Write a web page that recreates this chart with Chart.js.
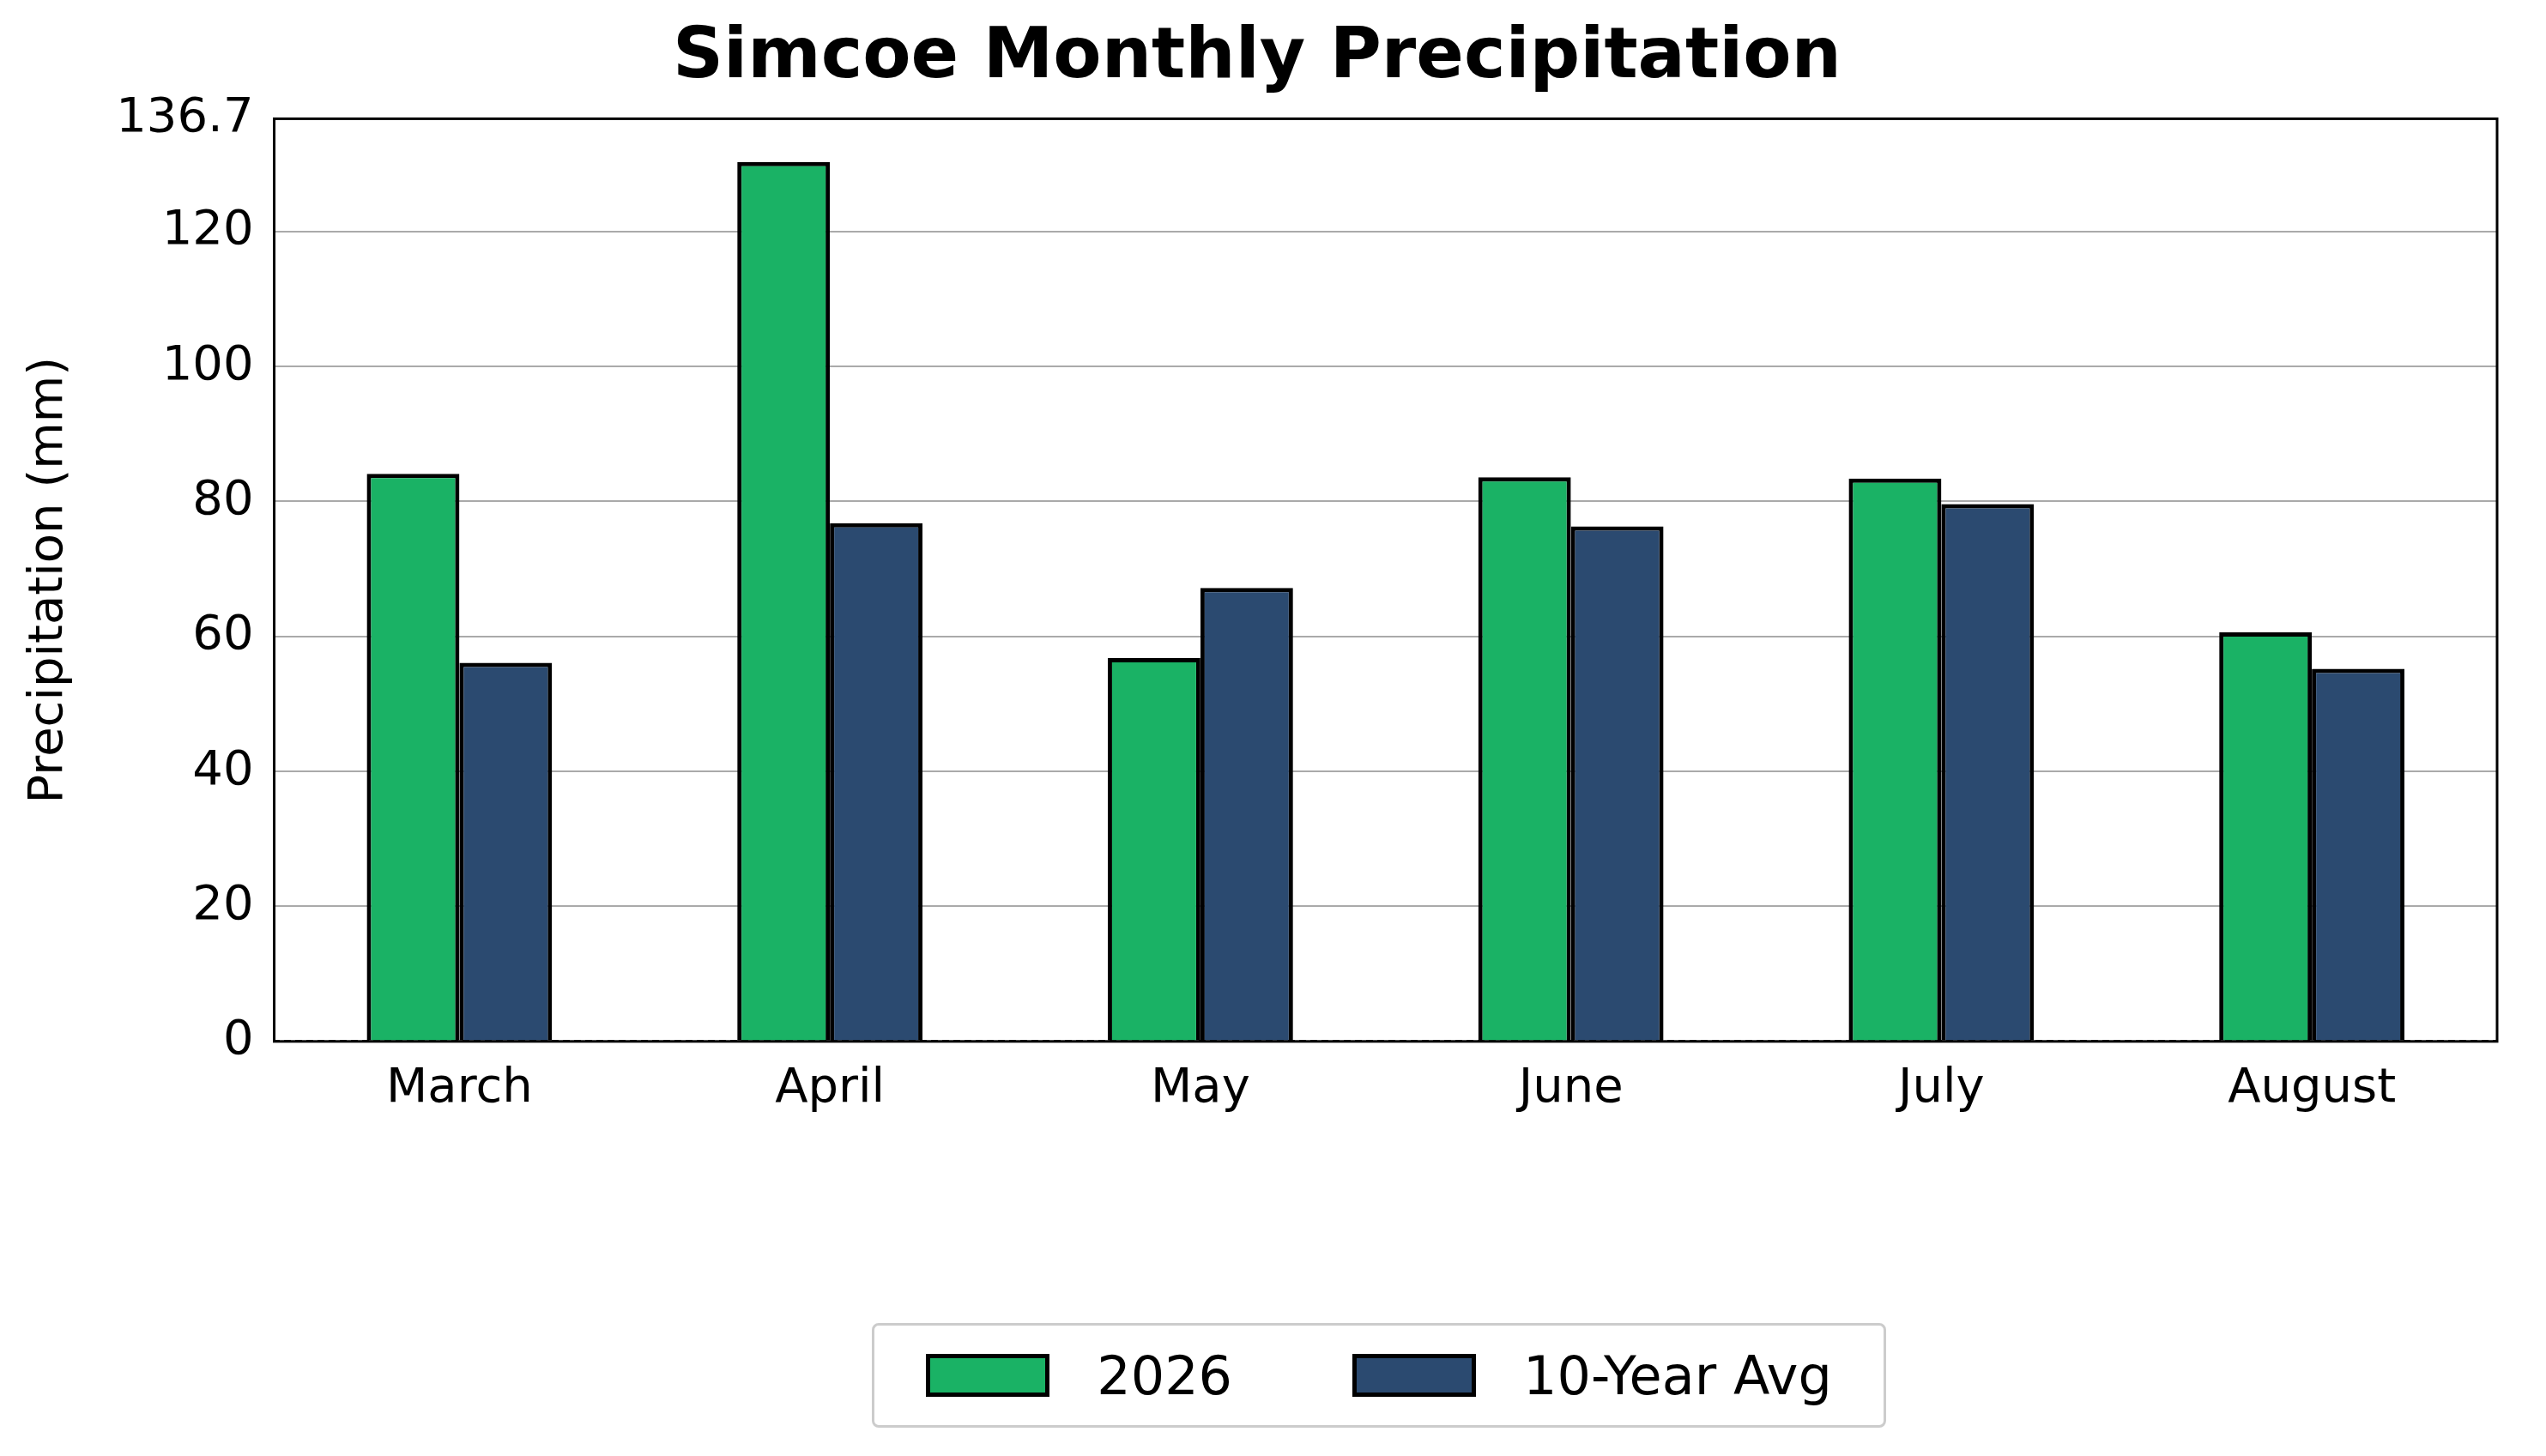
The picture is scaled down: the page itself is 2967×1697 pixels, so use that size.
<!DOCTYPE html>
<html>
<head>
<meta charset="utf-8">
<script src="https://cdn.jsdelivr.net/npm/chart.js@4"></script>
<style>
  body { margin: 0; background: #fff; font-family: "DejaVu Sans", sans-serif; }
  #wrap { position: relative; width: 2967px; height: 1697px; }
  #legend {
    position: absolute; left: 1016px; top: 1542px; width: 1182px; height: 122px;
    border: 3px solid #ccc; border-radius: 8px; box-sizing: border-box;
    display: flex; align-items: center; justify-content: center; gap: 140px;
    font-size: 62px; color: #000;
  }
  .item { display: flex; align-items: center; gap: 55px; }
  .sw { width: 144px; height: 50px; border: 5px solid #000; box-sizing: border-box; }
</style>
</head>
<body>
<div id="wrap">
  <canvas id="chart" width="2967" height="1697"></canvas>
  <div id="legend">
    <div class="item"><div class="sw" style="background:#1ab265"></div>2026</div>
    <div class="item"><div class="sw" style="background:#2b4a70"></div>10-Year Avg</div>
  </div>
</div>
<script>
const months = ["March", "April", "May", "June", "July", "August"];
const precip2026 = [84.1, 130.3, 56.8, 83.6, 83.4, 60.6];
const tenYearAvg = [56.1, 76.8, 67.2, 76.3, 79.6, 55.2];

const frame = {
  id: "frame",
  afterDatasetsDraw(chart) {
    const a = chart.chartArea, c = chart.ctx;
    c.save();
    c.setLineDash([]);
    c.strokeStyle = "#000";
    c.lineWidth = 3;
    c.strokeRect(a.left, a.top, a.right - a.left, a.bottom - a.top);
    c.restore();
  },
};

Chart.defaults.font.family = "DejaVu Sans";
Chart.defaults.color = "#000";

new Chart(document.getElementById("chart"), {
  type: "bar",
  data: {
    labels: months,
    datasets: [
      {
        label: "2026",
        data: precip2026,
        backgroundColor: "#1ab265",
        borderColor: "#000",
        borderWidth: 5,
        borderSkipped: "bottom",
      },
      {
        label: "10-Year Avg",
        data: tenYearAvg,
        backgroundColor: "#2b4a70",
        borderColor: "#000",
        borderWidth: 5,
        borderSkipped: "bottom",
      },
    ],
  },
  options: {
    responsive: false,
    animation: false,
    devicePixelRatio: 1,
    layout: { padding: { left: 20, right: 57, top: 10, bottom: 380 } },
    datasets: { bar: { categoryPercentage: 0.5, barPercentage: 1.0 } },
    plugins: {
      legend: { display: false },
      tooltip: { enabled: false },
      title: {
        display: true,
        text: "Simcoe Monthly Precipitation",
        font: { size: 82, weight: "bold" },
        padding: { top: 10, bottom: 20 },
      },
    },
    scales: {
      x: {
        grid: { display: false },
        border: { color: "#000", width: 3 },
        ticks: { font: { size: 56 }, padding: 14 },
      },
      y: {
        min: 0,
        max: 136.7,
        border: { color: "#000", width: 3 },
        grid: {
          color: (ctx) => (ctx.tick && ctx.tick.value === 0 ? "rgba(0,0,0,0)" : "#aaa"),
          lineWidth: 2,
          drawTicks: false,
        },
        ticks: { stepSize: 20, font: { size: 56 }, padding: 24 },
        title: {
          display: true,
          text: "Precipitation (mm)",
          font: { size: 56 },
          padding: { bottom: 20 },
        },
      },
    },
  },
  plugins: [
    frame,
    {
      id: "dash",
      beforeDraw(chart) { chart.ctx.setLineDash([8, 5]); },
      beforeDatasetsDraw(chart) { chart.ctx.setLineDash([]); },
    },
  ],
});
</script>
</body>
</html>
